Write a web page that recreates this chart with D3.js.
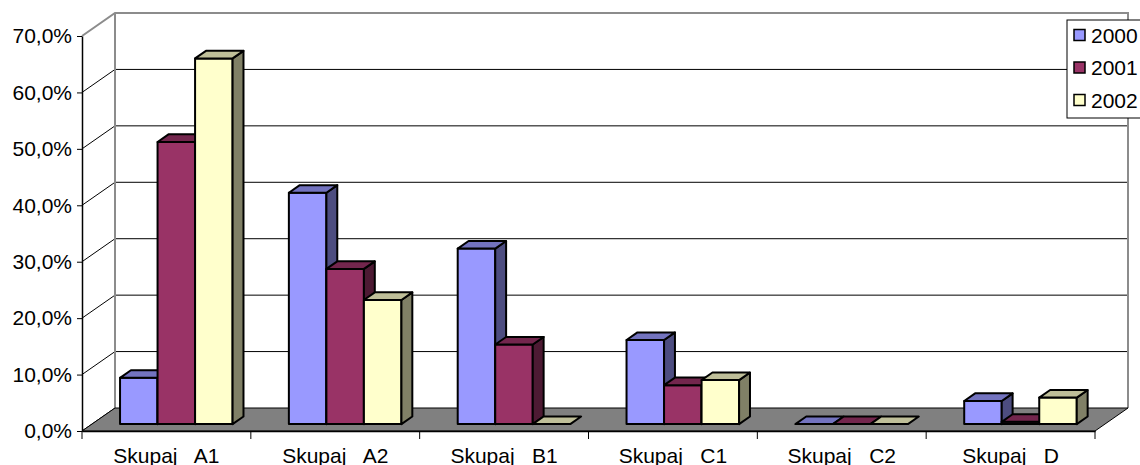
<!DOCTYPE html>
<html>
<head>
<meta charset="utf-8">
<script src="https://cdn.jsdelivr.net/npm/d3@7"></script>
<style>
  body { margin: 0; background: #fff; }
  svg { display: block; font-family: "Liberation Sans", Arial, sans-serif; }
</style>
</head>
<body>
<svg id="chart" width="1140" height="465"></svg>
<script>
// chart data
const categories = ["Skupaj   A1", "Skupaj   A2", "Skupaj   B1", "Skupaj   C1", "Skupaj   C2", "Skupaj   D"];
const seriesNames = ["2000", "2001", "2002"];
const values2000 = [0.082, 0.410, 0.311, 0.149, 0, 0.041];
const values2001 = [0.500, 0.275, 0.141, 0.069, 0, 0.004];
const values2002 = [0.648, 0.220, 0, 0.078, 0, 0.047];
const yTicks = [0, 0.1, 0.2, 0.3, 0.4, 0.5, 0.6, 0.7];

const seriesValues = [values2000, values2001, values2002];
// front, top, side colours
const colors = {
    "2000": ["#9999ff", "#7373bf", "#4d4d80"],
    "2001": ["#993366", "#73264d", "#4d1a33"],
    "2002": ["#ffffcc", "#bfbf99", "#808066"]
};

const svg = d3.select("#chart");
const fontSize = 21;

const plot = { left: 82, right: 1095, top: 36, bottom: 431 };
const depthX = 33, depthY = 23;     // offset of back wall
const barD0 = 0.3, barD1 = 0.63;    // bar depth range as fraction of floor depth

const x = d3.scaleBand()
    .domain(categories)
    .range([plot.left, plot.right])
    .paddingInner(0)
    .paddingOuter(0);

const xSub = d3.scaleBand()
    .domain(seriesNames)
    .range([0, x.bandwidth()])
    .paddingInner(0)
    .paddingOuter(0.75);

const y = d3.scaleLinear()
    .domain([0, 0.7])
    .range([plot.bottom, plot.top]);

const locale = d3.formatLocale({ decimal: ",", thousands: ".", grouping: [3], currency: ["", ""] });
const pct = locale.format(".1%");

// project a point at (screen x, value, depth) to screen coords
function pt(px, v, d) {
    return [px + depthX * d, y(v) - depthY * d];
}
function poly(points) {
    return points.map(p => p.join(",")).join(" ");
}

// back wall
const g = svg.append("g");
const bx0 = plot.left + depthX, bx1 = plot.right + depthX;
g.append("rect")
    .attr("x", bx0).attr("y", y(0.7) - depthY)
    .attr("width", bx1 - bx0).attr("height", y(0) - y(0.7))
    .attr("fill", "#fff");

// gridlines on back wall and left wall
yTicks.forEach(t => {
    if (t === 0) return;
    g.append("line")
        .attr("x1", bx0).attr("x2", bx1)
        .attr("y1", y(t) - depthY).attr("y2", y(t) - depthY)
        .attr("stroke", "#000").attr("stroke-width", 1);
    if (t < 0.7) {
        g.append("line")
            .attr("x1", plot.left).attr("y1", y(t))
            .attr("x2", bx0).attr("y2", y(t) - depthY)
            .attr("stroke", "#000").attr("stroke-width", 1);
    }
});
g.append("line")
    .attr("x1", plot.left).attr("y1", y(0))
    .attr("x2", bx0).attr("y2", y(0) - depthY)
    .attr("stroke", "#000").attr("stroke-width", 1);

// wall edges (grey)
g.append("polyline")
    .attr("points", poly([[plot.left, y(0.7)], pt(plot.left, 0.7, 1), pt(plot.right, 0.7, 1), pt(plot.right, 0, 1)]))
    .attr("fill", "none").attr("stroke", "#8c8c8c").attr("stroke-width", 2);
g.append("line")
    .attr("x1", bx0).attr("x2", bx0)
    .attr("y1", y(0.7) - depthY).attr("y2", y(0) - depthY)
    .attr("stroke", "#8c8c8c").attr("stroke-width", 2);

// floor
g.append("polygon")
    .attr("points", poly([pt(plot.left, 0, 0), pt(plot.right, 0, 0), pt(plot.right, 0, 1), pt(plot.left, 0, 1)]))
    .attr("fill", "#808080")
    .attr("stroke", "#000").attr("stroke-width", 1);

// bars
const bars = g.append("g");
categories.forEach((cat, ci) => {
    seriesNames.forEach((s, si) => {
        const v = seriesValues[si][ci];
        const x0 = x(cat) + xSub(s);
        const x1 = x0 + xSub.bandwidth();
        const c = colors[s];
        const bar = bars.append("g")
            .attr("stroke", "#000").attr("stroke-width", 2).attr("stroke-linejoin", "round");
        if (v > 0) {
            bar.append("polygon")
                .attr("points", poly([pt(x0, v, barD0), pt(x1, v, barD0), pt(x1, 0, barD0), pt(x0, 0, barD0)]))
                .attr("fill", c[0]);
            bar.append("polygon")
                .attr("points", poly([pt(x1, v, barD0), pt(x1, v, barD1), pt(x1, 0, barD1), pt(x1, 0, barD0)]))
                .attr("fill", c[2]);
        }
        bar.append("polygon")
            .attr("points", poly([pt(x0, v, barD0), pt(x1, v, barD0), pt(x1, v, barD1), pt(x0, v, barD1)]))
            .attr("fill", c[1]);
    });
});

// y axis
const yAxis = d3.axisLeft(y)
    .tickValues(yTicks)
    .tickFormat(pct)
    .tickSize(5)
    .tickSizeOuter(0)
    .tickPadding(5);
const yg = svg.append("g")
    .attr("transform", "translate(" + plot.left + ",0)")
    .call(yAxis);
yg.select(".domain").attr("stroke", "#000").attr("stroke-width", 1.5);
yg.selectAll("text").attr("font-size", fontSize).attr("font-family", "Liberation Sans, Arial, sans-serif").attr("fill", "#000");

// x axis: labels centred, ticks on band edges
const xg = svg.append("g")
    .attr("transform", "translate(0," + plot.bottom + ")")
    .call(d3.axisBottom(x).tickSize(0).tickPadding(17));
xg.select(".domain").attr("stroke", "#000").attr("stroke-width", 1.5);
xg.selectAll("text")
    .attr("font-size", fontSize)
    .attr("font-family", "Liberation Sans, Arial, sans-serif")
    .attr("fill", "#000")
    .attr("xml:space", "preserve")
    .style("white-space", "pre");
const edges = categories.map(c => x(c)).concat([plot.right]);
xg.selectAll("line.edge")
    .data(edges)
    .enter().append("line")
    .attr("class", "edge")
    .attr("x1", d => d).attr("x2", d => d)
    .attr("y1", 0).attr("y2", 8)
    .attr("stroke", "#000").attr("stroke-width", 1);

// legend
const legend = svg.append("g").attr("transform", "translate(1067,20)");
legend.append("rect")
    .attr("x", 0).attr("y", 0)
    .attr("width", 90).attr("height", 98)
    .attr("fill", "#fff").attr("stroke", "#000").attr("stroke-width", 1);
const items = legend.selectAll("g.item")
    .data(seriesNames)
    .enter().append("g")
    .attr("class", "item")
    .attr("transform", (s, i) => "translate(0," + (15 + i * 32.5) + ")");
items.append("rect")
    .attr("x", 7).attr("y", -5.5)
    .attr("width", 11).attr("height", 11)
    .attr("fill", s => colors[s][0])
    .attr("stroke", "#000").attr("stroke-width", 1.5);
items.append("text")
    .attr("x", 24).attr("dy", "0.36em")
    .attr("font-size", fontSize)
    .text(s => s);
</script>
</body>
</html>
